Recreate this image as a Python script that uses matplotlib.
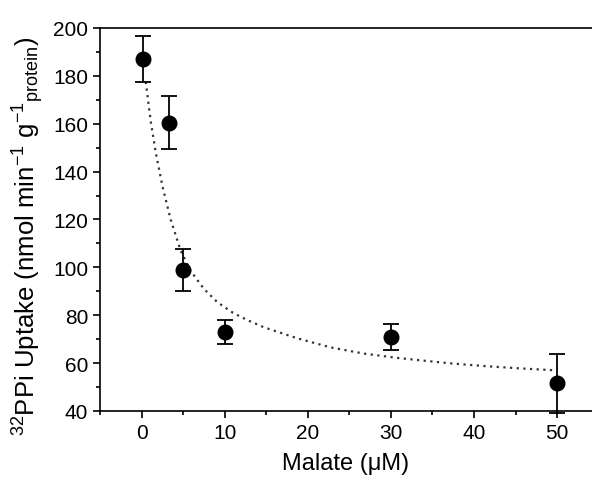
import matplotlib.pyplot as plt
from matplotlib.ticker import MultipleLocator

plt.rcParams['font.family'] = ['Liberation Sans', 'DejaVu Sans']
plt.rcParams['mathtext.fontset'] = 'custom'
plt.rcParams['mathtext.rm'] = 'Liberation Sans'
plt.rcParams['mathtext.it'] = 'Liberation Sans:italic'

# measured uptake (mean +/- error)
malate = [0.2, 3.3, 5.0, 10.0, 30.0, 50.0]
uptake = [187, 160.5, 99, 73, 71, 51.5]
err = [9.5, 11, 8.7, 5, 5.5, 12.5]

# fitted decay curve, sampled
fit_x = [0.5, 1.1, 1.7, 2.5, 3.5, 4.7, 5.9, 7.5, 9.1, 11, 12.7, 14.7,
         18.7, 22.7, 26.7, 30.7, 34, 37.5, 41.5, 45.5, 49.7]
fit_y = [177.5, 161, 148, 134, 120, 107, 98.5, 91, 85.5, 81, 78, 75,
         70.4, 66.6, 64, 62.2, 61, 59.8, 58.7, 57.8, 57]

fig = plt.figure(figsize=(5.92, 4.89), dpi=100)
ax = fig.add_axes([0.169, 0.1575, 0.831, 0.7832])

ax.plot(fit_x, fit_y, color='#333333', lw=1.6, linestyle=(0, (1, 2)))
ax.errorbar(malate, uptake, yerr=err, fmt='o', color='black', ms=10.5,
            elinewidth=1.3, capsize=6, capthick=1.3, clip_on=False, zorder=3)

ax.set_xlim(-5, 54.2)
ax.set_ylim(40, 200)
ax.xaxis.set_major_locator(MultipleLocator(10))
ax.xaxis.set_minor_locator(MultipleLocator(5))
ax.yaxis.set_major_locator(MultipleLocator(20))
ax.yaxis.set_minor_locator(MultipleLocator(10))

for s in ['left', 'bottom', 'top']:
    ax.spines[s].set_linewidth(1.2)
ax.spines['right'].set_visible(False)
ax.tick_params(which='major', direction='out', length=5, width=1.2,
               labelsize=15, top=False, right=False)
ax.tick_params(which='minor', direction='out', length=3, width=1.2,
               top=False, right=False)

ax.set_xlabel('Malate (μM)', fontsize=17, labelpad=7)
ax.set_ylabel(r'$^{32}$PPi Uptake (nmol min$^{-1}$ g$^{-1}$$_{\rm protein}$)',
              fontsize=18.5)
ax.yaxis.set_label_coords(-0.11, 0.46)

fig.savefig('out.png', dpi=100)
